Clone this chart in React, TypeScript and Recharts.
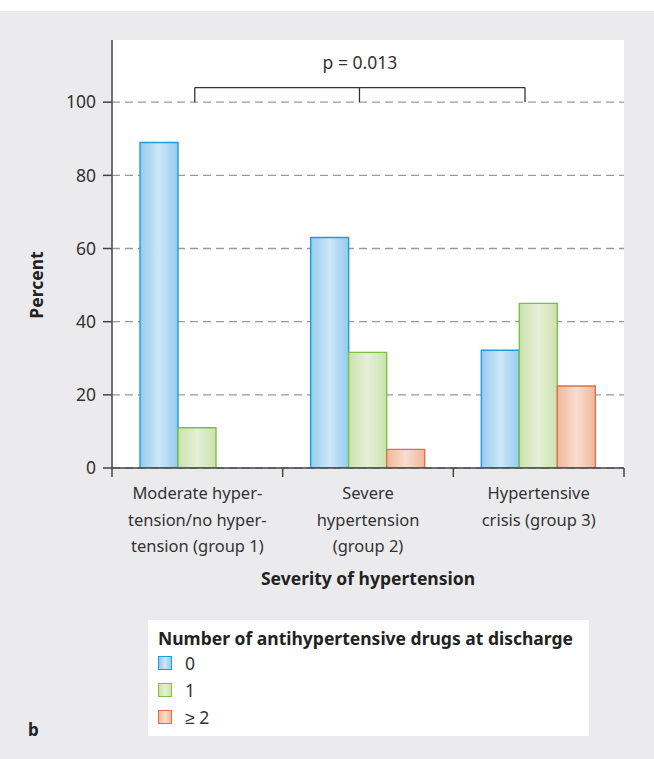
import React from 'react';
import { BarChart, Bar, XAxis, YAxis, CartesianGrid, ReferenceLine, Legend } from 'recharts';

// ---- data ----
const categories = ['group 1', 'group 2', 'group 3'];
const categoryLabels: string[][] = [
  ['Moderate hyper-', 'tension/no hyper-', 'tension (group 1)'],
  ['Severe', 'hypertension', '(group 2)'],
  ['Hypertensive', 'crisis (group 3)'],
];
const drugs0 = [89, 63, 32.2];
const drugs1 = [11, 31.6, 45];
const drugs2 = [0, 5.1, 22.4];
const seriesNames = ['0', '1', '≥ 2'];
const yTicks = [0, 20, 40, 60, 80, 100];
const yTitle = 'Percent';
const xTitle = 'Severity of hypertension';
const legendTitle = 'Number of antihypertensive drugs at discharge';
const pValueText = 'p = 0.013';
// bracket positions in category units (0..3) and percent units
const bracketXs = [0.485, 1.45, 2.42];
const bracketLow = 100;
const bracketHigh = 104;
const panelLabel = 'b';

const data = categories.map((c, i) => ({
  name: c,
  pos: i + 0.5,
  d0: drugs0[i],
  d1: drugs1[i],
  d2: drugs2[i],
}));

const FONT = '"Noto Sans", sans-serif';
const TEXT = '#333';
const LABEL_FS = 16.5;
const NUM_FS = 17.5;
const BOLD_FS = 17.5;

const seriesStyle = [
  { key: 'd0', id: 'gBlue', edge: '#94cbef', center: '#cde7f8', stroke: '#1a9ee0' },
  { key: 'd1', id: 'gGreen', edge: '#cce2ac', center: '#e5f0d8', stroke: '#7dbf47' },
  { key: 'd2', id: 'gOrange', edge: '#f1b799', center: '#f9ddcf', stroke: '#e06f4a' },
];

const XTick = (props: any) => {
  const { x, y, payload, index } = props;
  const half = payload && typeof payload.offset === 'number' && payload.offset > 0 ? payload.offset : 85.33;
  const tickLen = 9;
  const axisY = y - tickLen;
  const lines = categoryLabels[index] || [String(payload.value)];
  return (
    <g>
      <line x1={x - half} y1={axisY} x2={x - half} y2={axisY + tickLen} stroke="#444" strokeWidth={1.5} />
      {index === categories.length - 1 && (
        <line x1={x + half} y1={axisY} x2={x + half} y2={axisY + tickLen} stroke="#444" strokeWidth={1.5} />
      )}
      <text x={x} y={axisY + 31} textAnchor="middle" fontSize={LABEL_FS} fill={TEXT} fontFamily={FONT}>
        {lines.map((l, i) => (
          <tspan key={i} x={x} dy={i === 0 ? 0 : 26.5}>
            {l}
          </tspan>
        ))}
      </text>
    </g>
  );
};

const LegendContent = (props: any) => {
  const payload = props.payload || [];
  return (
    <div
      style={{
        background: '#fff',
        width: 441,
        height: 116,
        boxSizing: 'border-box',
        padding: '7px 10px',
        fontFamily: FONT,
        textAlign: 'left',
      }}
    >
      <div style={{ fontWeight: 700, fontSize: BOLD_FS, color: '#222', lineHeight: '22px', whiteSpace: 'nowrap' }}>
        {legendTitle}
      </div>
      {payload.map((entry: any, i: number) => {
        const st = seriesStyle.find((s) => s.key === entry.dataKey) || seriesStyle[i];
        return (
          <div key={i} style={{ display: 'flex', alignItems: 'center', height: 27 }}>
            <div
              style={{
                width: 14,
                height: 14,
                boxSizing: 'border-box',
                border: `1.5px solid ${st.stroke}`,
                background: `linear-gradient(to right, ${st.edge}, ${st.center}, ${st.edge})`,
                marginRight: 13,
              }}
            />
            <span style={{ fontSize: NUM_FS, color: TEXT, lineHeight: '20px' }}>{entry.value}</span>
          </div>
        );
      })}
    </div>
  );
};

export default function App() {
  return (
    <div
      style={{
        position: 'absolute',
        left: 0,
        top: 0,
        width: 654,
        height: 759,
        background: '#fff',
        fontFamily: FONT,
        overflow: 'hidden',
      }}
    >
      <div style={{ position: 'absolute', left: 0, top: 11, width: 654, height: 748, background: '#ebebed' }} />
      <div style={{ position: 'absolute', left: 0, top: 0 }}>
        <BarChart
          width={654}
          height={759}
          data={data}
          margin={{ top: 40, right: 30, left: 52, bottom: 171 }}
          barGap={0}
          barSize={38}
          style={{ fontFamily: FONT }}
        >
          <defs>
            {seriesStyle.map((s) => (
              <linearGradient key={s.id} id={s.id} x1="0" y1="0" x2="1" y2="0">
                <stop offset="0%" stopColor={s.edge} />
                <stop offset="50%" stopColor={s.center} />
                <stop offset="100%" stopColor={s.edge} />
              </linearGradient>
            ))}
          </defs>
          <CartesianGrid
            vertical={false}
            horizontal={true}
            syncWithTicks={true}
            fill="#fff"
            stroke="#9a9a9a"
            strokeWidth={1.3}
            strokeDasharray="8 5"
          />
          <XAxis
            dataKey="name"
            type="category"
            height={120}
            tickLine={false}
            tickSize={9}
            tickMargin={0}
            interval={0}
            axisLine={{ stroke: '#444', strokeWidth: 1.5 }}
            tick={<XTick />}
            label={{
              content: (p: any) => {
                const vb = p.viewBox || { x: 112, y: 467.7, width: 512 };
                return (
                  <text
                    x={vb.x + vb.width / 2}
                    y={vb.y + 117}
                    textAnchor="middle"
                    fontSize={BOLD_FS}
                    fontWeight={700}
                    fill="#222"
                    fontFamily={FONT}
                  >
                    {xTitle}
                  </text>
                );
              },
            }}
          />
          <XAxis
            xAxisId="br"
            dataKey="pos"
            type="number"
            scale="linear"
            domain={[0, 3]}
            allowDataOverflow={true}
            padding={{ left: 0, right: 0 }}
            hide
          />
          <YAxis
            type="number"
            domain={[0, 117]}
            allowDataOverflow={true}
            ticks={yTicks}
            interval={0}
            width={60}
            tickSize={9}
            tickMargin={7}
            axisLine={{ stroke: '#444', strokeWidth: 1.5 }}
            tickLine={{ stroke: '#444', strokeWidth: 1.5 }}
            tick={{ fill: TEXT, fontSize: NUM_FS, fontFamily: FONT }}
            label={{
              content: (p: any) => {
                const vb = p.viewBox || { x: 52 };
                const cx = vb.x - 9;
                const cy = 285;
                return (
                  <text
                    x={cx}
                    y={cy}
                    transform={`rotate(-90, ${cx}, ${cy})`}
                    textAnchor="middle"
                    fontSize={BOLD_FS}
                    fontWeight={700}
                    fill="#222"
                    fontFamily={FONT}
                  >
                    {yTitle}
                  </text>
                );
              },
            }}
          />
          {seriesStyle.map((s, i) => (
            <Bar
              key={s.key}
              dataKey={s.key}
              name={seriesNames[i]}
              fill={`url(#${s.id})`}
              stroke={s.stroke}
              strokeWidth={1.4}
              isAnimationActive={false}
            />
          ))}
          <ReferenceLine
            xAxisId="br"
            segment={[
              { x: bracketXs[0], y: bracketHigh },
              { x: bracketXs[2], y: bracketHigh },
            ]}
            stroke="#333"
            strokeWidth={1.3}
            ifOverflow="visible"
            label={{ value: pValueText, position: 'top', offset: 19, fill: TEXT, fontSize: NUM_FS, fontFamily: FONT }}
          />
          {bracketXs.map((bx, i) => (
            <ReferenceLine
              key={i}
              xAxisId="br"
              segment={[
                { x: bx, y: bracketLow },
                { x: bx, y: bracketHigh },
              ]}
              stroke="#333"
              strokeWidth={1.3}
              ifOverflow="visible"
            />
          ))}
          <Legend
            layout="horizontal"
            verticalAlign="middle"
            align="center"
            wrapperStyle={{ left: 148, top: 620, width: 441, height: 116 }}
            content={<LegendContent />}
          />
        </BarChart>
      </div>
      <div
        style={{
          position: 'absolute',
          left: 28,
          top: 721,
          fontWeight: 700,
          fontSize: 17,
          lineHeight: 1,
          color: '#222',
          fontFamily: FONT,
        }}
      >
        {panelLabel}
      </div>
    </div>
  );
}
